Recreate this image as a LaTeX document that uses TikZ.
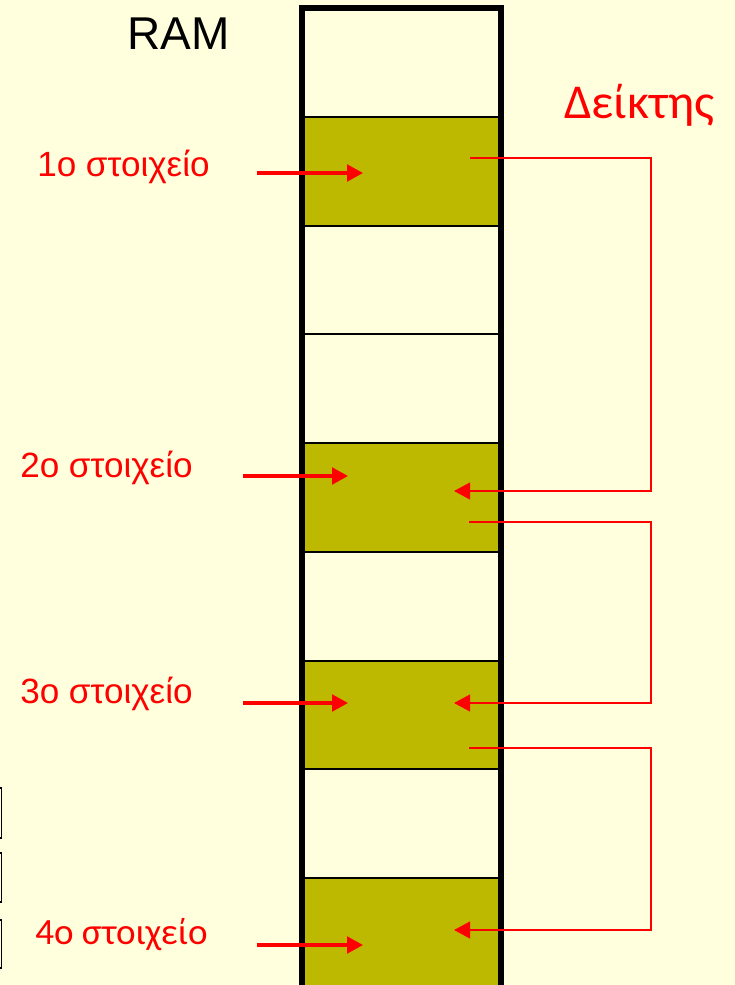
\documentclass[tikz,border=0pt]{standalone}
\usepackage{fontspec}
\setmainfont{Liberation Sans}
\newfontfamily\carl{Carlito}
\usetikzlibrary{arrows.meta}
\definecolor{bg}{RGB}{255,255,221}
\definecolor{olivecell}{RGB}{189,184,0}
\definecolor{ptrred}{RGB}{255,0,0}
\begin{document}
\begin{tikzpicture}[x=0.75pt,y=-0.75pt,
  cell/.style={draw=black, line width=1.5pt, minimum width=149.25pt, minimum height=81.56pt, inner sep=0pt, fill=bg},
  full/.style={fill=olivecell},
  lbl/.style={text=ptrred, font=\fontsize{26.3}{29}\selectfont, inner sep=0pt, anchor=base west},
  ptr/.style={draw=ptrred, line width=1.5pt},
  arr/.style={ptr, -{Triangle[length=12pt,width=12.5pt]}},
  larr/.style={arr, line width=2.4pt, -{Triangle[length=12pt,width=12.5pt]}},
  stub/.style={draw=black, line width=1.2pt}
]
\fill[bg] (0,0) rectangle (735,985);
\useasboundingbox (0,0) rectangle (735,985);
% memory cells
\foreach \i in {1,...,9} {
  \node[cell] (c\i) at (401.5, {8+108.75*(\i-0.5)}) {};
}
\foreach \i in {2,5,7,9} {
  \node[cell, full] at (c\i) {};
}
% outer thick border
\draw[line width=4.5pt] (302,1000) -- (302,8) -- (501,8) -- (501,1000);
% left stubs
\draw[stub] (-20,788) rectangle (1.5,838);
\draw[stub] (-20,853) rectangle (1.5,902);
\draw[stub] (-20,920) rectangle (1.5,968);
% titles
\node[inner sep=0pt, anchor=base west, font=\fontsize{34.5}{38}\selectfont] (ram) at (127,49) {RAM};
\node[inner sep=0pt, anchor=base west, text=ptrred, font=\carl\fontsize{36.5}{40}\selectfont] (deikt) at (564,118) {Δείκτης};
% element labels
\node[lbl] (l1) at (37,176) {1ο στοιχείο};
\node[lbl] (l2) at (20,477) {2ο στοιχείο};
\node[lbl] (l3) at (20,703) {3ο στοιχείο};
\node[lbl, font=\carl\fontsize{27.8}{30}\selectfont] (l4) at (35,944) {4ο στοιχείο};
% label arrows
\coordinate (a1s) at (257,173); \coordinate (a1e) at (363,173);
\coordinate (a2s) at (243,476); \coordinate (a2e) at (348,476);
\coordinate (a3s) at (243,703); \coordinate (a3e) at (348,703);
\coordinate (a4s) at (257,945); \coordinate (a4e) at (363,945);
\draw[larr] (a1s) -- (a1e);
\draw[larr] (a2s) -- (a2e);
\draw[larr] (a3s) -- (a3e);
\draw[larr] (a4s) -- (a4e);
% pointers
\coordinate (p1s) at (470,158); \coordinate (p1c) at (651,491); \coordinate (p1e) at (454,491);
\coordinate (p2s) at (469,522); \coordinate (p2c) at (651,703); \coordinate (p2e) at (454,703);
\coordinate (p3s) at (469,748); \coordinate (p3c) at (651,930); \coordinate (p3e) at (454,930);
\draw[arr] (p1s) -| (p1c) -- (p1e);
\draw[arr] (p2s) -| (p2c) -- (p2e);
\draw[arr] (p3s) -| (p3c) -- (p3e);
\end{tikzpicture}
\end{document}
